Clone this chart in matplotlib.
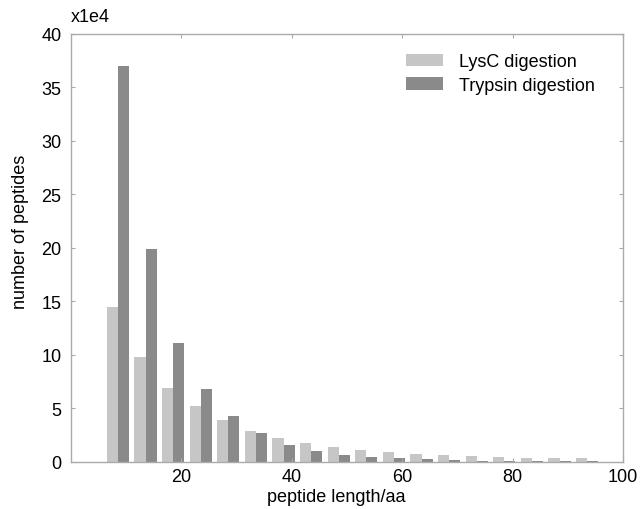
import numpy as np
import matplotlib.pyplot as plt

plt.rcParams['font.family'] = ['Liberation Sans', 'DejaVu Sans']

# peptide length bins (centre of each 5 aa bin)
bin_centers = [8.5, 13.5, 18.5, 23.5, 28.5, 33.5, 38.5, 43.5, 48.5,
               53.5, 58.5, 63.5, 68.5, 73.5, 78.5, 83.5, 88.5, 93.5]
# counts in units of 1e4
lysc = [14.5, 9.75, 6.9, 5.2, 3.9, 2.9, 2.22, 1.72, 1.37,
        1.07, 0.86, 0.72, 0.6, 0.5, 0.41, 0.34, 0.29, 0.29]
trypsin = [37.0, 19.9, 11.1, 6.75, 4.3, 2.66, 1.58, 1.0, 0.62,
           0.43, 0.29, 0.2, 0.13, 0.08, 0.05, 0.04, 0.03, 0.02]

lysc_color = '#c6c6c6'
trypsin_color = '#8a8a8a'
spine_color = '#aaaaaa'

fig = plt.figure(figsize=(6.42, 5.10), dpi=100)
ax = fig.add_axes([0.1106, 0.0931, 0.8598, 0.8383])

x = np.array(bin_centers)
w = 2.0
ax.bar(x - w / 2, lysc, width=w, color=lysc_color, label='LysC digestion')
ax.bar(x + w / 2, trypsin, width=w, color=trypsin_color, label='Trypsin digestion')

ax.set_xlim(0, 100)
ax.set_ylim(0, 40)
ax.set_xticks([20, 40, 60, 80, 100])
ax.set_yticks(np.arange(0, 41, 5))

for s in ax.spines.values():
    s.set_color(spine_color)
    s.set_linewidth(1.0)
ax.tick_params(direction='in', length=3, color=spine_color, labelsize=13,
               top=True, right=True)
ax.tick_params(axis='y', pad=7)
ax.tick_params(axis='x', pad=5)

ax.set_xlabel('peptide length/aa', fontsize=13, labelpad=1)
ax.xaxis.set_label_coords(0.48, -0.062)
ax.set_ylabel('number of peptides', fontsize=13)
ax.yaxis.set_label_coords(-0.077, 0.54)
ax.text(0.0, 1.02, 'x1e4', transform=ax.transAxes, fontsize=13,
        ha='left', va='bottom')

ax.legend(loc='upper left', frameon=False, fontsize=13,
          handlelength=2.05, handleheight=0.7, handletextpad=0.9,
          labelspacing=0.35, borderpad=0, borderaxespad=0,
          bbox_to_anchor=(0.607, 0.955))

fig.savefig('out.png', dpi=100)
